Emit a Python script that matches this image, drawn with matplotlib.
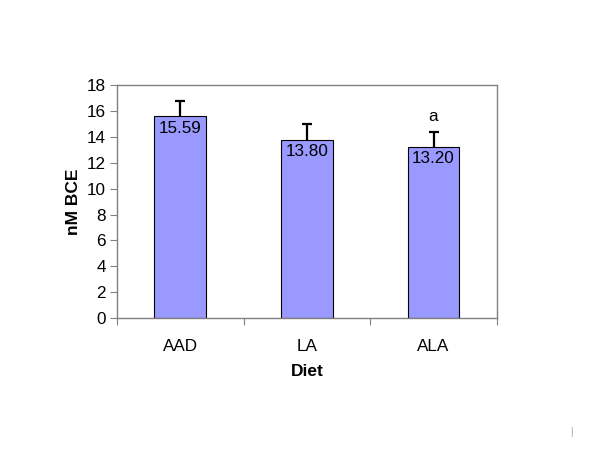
import numpy as np
import matplotlib.pyplot as plt

plt.rcParams['font.family'] = ['Liberation Sans', 'DejaVu Sans']

# data
diets = ['AAD', 'LA', 'ALA']
bce = [15.59, 13.80, 13.20]
err = [1.2, 1.2, 1.18]
marks = ['', '', 'a']

fig = plt.figure(figsize=(6, 4.63), dpi=100)
ax = fig.add_axes([0.195, 0.313, 0.633, 0.503])

x = np.arange(len(diets))
ax.bar(x, bce, width=0.41, color='#9999FF', edgecolor='black', linewidth=0.8, zorder=2)

# one-sided (upper) error bars
tops = np.array(bce) + np.array(err)
ax.vlines(x, bce, tops, color='black', linewidth=1.6, zorder=3)
ax.plot(x, tops, linestyle='none', marker='_', markersize=7, markeredgewidth=1.6,
        color='black', zorder=3)

# value labels inside top of bars
for xi, v in zip(x, bce):
    ax.annotate('%.2f' % v, (xi, v), xytext=(0, -3), textcoords='offset points',
                ha='center', va='top', fontsize=12.3, zorder=4)

# significance letters
for xi, t, m in zip(x, tops, marks):
    if m:
        ax.annotate(m, (xi, t), xytext=(0, 6), textcoords='offset points',
                    ha='center', va='bottom', fontsize=12.3)

ax.set_xlim(-0.5, 2.5)
ax.set_ylim(0, 18)
ax.set_yticks(np.arange(0, 19, 2))
ax.set_xticks([-0.5, 0.5, 1.5, 2.5], minor=False)
ax.set_xticklabels([])
ax.set_xticks(x, minor=True)
ax.set_xticklabels(diets, minor=True)
ax.tick_params(axis='x', which='minor', length=0, pad=15, labelsize=12.3)
ax.tick_params(axis='x', which='major', length=5, color='#808080', direction='out')
ax.tick_params(axis='y', length=5, color='#808080', labelsize=12.3, pad=3)

for s in ax.spines.values():
    s.set_color('#808080')
    s.set_linewidth(1.0)

ax.set_xlabel('Diet', fontsize=12.5, fontweight='bold', labelpad=7)
ax.set_ylabel('nM BCE', fontsize=12.5, fontweight='bold', labelpad=4)

fig.text(0.952, 0.067, '|', color='#999999', fontsize=7, ha='center', va='center')

fig.savefig('out.png', dpi=100)
